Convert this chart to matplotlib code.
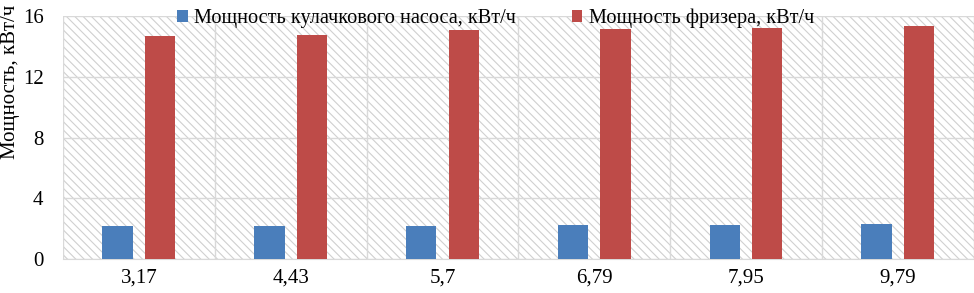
import numpy as np
import matplotlib
matplotlib.use("Agg")
import matplotlib.pyplot as plt
from matplotlib.patches import Rectangle

categories = ["3,17", "4,43", "5,7", "6,79", "7,95", "9,79"]
pump = [2.17, 2.17, 2.2, 2.22, 2.24, 2.28]
freezer = [14.7, 14.74, 15.07, 15.15, 15.22, 15.36]
series_names = ["Мощность кулачкового насоса, кВт/ч", "Мощность фризера, кВт/ч"]
yticks = [0, 4, 8, 12, 16]

plt.rcParams['font.family'] = ['Liberation Serif', 'DejaVu Serif']
plt.rcParams['hatch.linewidth'] = 0.8
plt.rcParams['hatch.color'] = '#d0d0d0'

fig = plt.figure(figsize=(9.74, 2.93), dpi=100)
ax = fig.add_axes([0.0647, 0.116, 0.935, 0.829])

x = np.arange(len(categories))
w = 0.2
ax.add_patch(Rectangle((0, 0), 1, 1, transform=ax.transAxes, facecolor='white',
                       edgecolor='#d0d0d0', hatch='\\\\\\\\', linewidth=0, zorder=0))
ax.bar(x - 0.14, pump, w, color='#4a7ebb', label=series_names[0], zorder=3)
ax.bar(x + 0.14, freezer, w, color='#be4b48', label=series_names[1], zorder=3)

ax.set_xlim(-0.5, len(categories) - 0.5)
ax.set_ylim(0, 16)
ax.set_yticks(yticks)
ax.set_xticks(x)
ax.set_xticklabels(categories)
ax.set_xticks(np.arange(len(categories) + 1) - 0.5, minor=True)
ax.grid(True, axis='y', color='#d9d9d9', linewidth=1, zorder=1)
ax.grid(True, axis='x', which='minor', color='#d9d9d9', linewidth=1, zorder=1)
ax.tick_params(axis='both', which='both', length=0, labelsize=15)
ax.tick_params(axis='x', pad=7)
ax.tick_params(axis='y', pad=14)
for s in ['top', 'right', 'left']:
    ax.spines[s].set_visible(False)
ax.spines['bottom'].set_color('#d9d9d9')

ax.set_ylabel("Мощность, кВт/ч", fontsize=15)
ax.yaxis.set_label_coords(-0.047, 0.73)
ax.legend(loc='lower center', bbox_to_anchor=(0.475, 0.95), ncol=2, frameon=False,
          fontsize=14.6, handlelength=0.5, handleheight=0.5, handletextpad=0.3,
          columnspacing=2.8, borderaxespad=0, borderpad=0)

fig.savefig("out.png", dpi=100)
